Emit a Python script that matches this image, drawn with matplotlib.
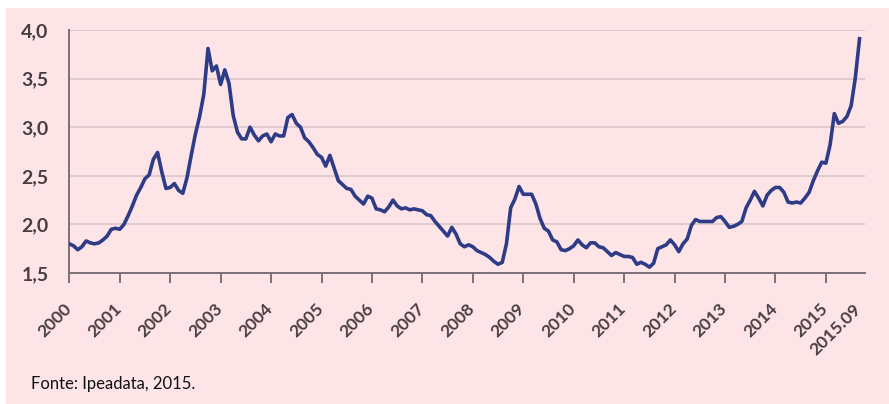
import numpy as np
import matplotlib.pyplot as plt
from matplotlib.patches import Rectangle
from matplotlib.transforms import ScaledTranslation

# taxa de câmbio R$/US$, média mensal, jan/2000 a set/2015
cambio_2000 = [1.80, 1.78, 1.74, 1.77, 1.83, 1.81, 1.80, 1.81, 1.84, 1.88, 1.95, 1.96]
cambio_2001 = [1.95, 2.00, 2.09, 2.19, 2.30, 2.38, 2.47, 2.51, 2.67, 2.74, 2.54, 2.37]
cambio_2002 = [2.38, 2.42, 2.35, 2.32, 2.48, 2.71, 2.93, 3.11, 3.34, 3.81, 3.58, 3.63]
cambio_2003 = [3.44, 3.59, 3.45, 3.12, 2.95, 2.88, 2.88, 3.00, 2.92, 2.86, 2.91, 2.93]
cambio_2004 = [2.85, 2.93, 2.91, 2.91, 3.10, 3.13, 3.04, 3.00, 2.89, 2.85, 2.79, 2.72]
cambio_2005 = [2.69, 2.60, 2.71, 2.58, 2.45, 2.41, 2.37, 2.36, 2.29, 2.25, 2.21, 2.29]
cambio_2006 = [2.27, 2.16, 2.15, 2.13, 2.18, 2.25, 2.19, 2.16, 2.17, 2.15, 2.16, 2.15]
cambio_2007 = [2.14, 2.10, 2.09, 2.03, 1.98, 1.93, 1.88, 1.97, 1.90, 1.80, 1.77, 1.79]
cambio_2008 = [1.77, 1.73, 1.71, 1.69, 1.66, 1.62, 1.59, 1.61, 1.80, 2.17, 2.26, 2.39]
cambio_2009 = [2.31, 2.31, 2.31, 2.21, 2.06, 1.96, 1.93, 1.84, 1.82, 1.74, 1.73, 1.75]
cambio_2010 = [1.78, 1.84, 1.79, 1.76, 1.81, 1.81, 1.77, 1.76, 1.72, 1.68, 1.71, 1.69]
cambio_2011 = [1.67, 1.67, 1.66, 1.59, 1.61, 1.59, 1.56, 1.60, 1.75, 1.77, 1.79, 1.84]
cambio_2012 = [1.79, 1.72, 1.80, 1.85, 1.99, 2.05, 2.03, 2.03, 2.03, 2.03, 2.07, 2.08]
cambio_2013 = [2.03, 1.97, 1.98, 2.00, 2.03, 2.17, 2.25, 2.34, 2.27, 2.19, 2.30, 2.35]
cambio_2014 = [2.38, 2.38, 2.33, 2.23, 2.22, 2.23, 2.22, 2.27, 2.33, 2.45, 2.55, 2.64]
cambio_2015 = [2.63, 2.82, 3.14, 3.04, 3.06, 3.11, 3.22, 3.51, 3.91]

anos = [str(a) for a in range(2000, 2016)]
ultimo_rotulo = "2015.09"
y_ticks = [1.5, 2.0, 2.5, 3.0, 3.5, 4.0]

serie = np.array(cambio_2000 + cambio_2001 + cambio_2002 + cambio_2003 + cambio_2004
                 + cambio_2005 + cambio_2006 + cambio_2007 + cambio_2008 + cambio_2009
                 + cambio_2010 + cambio_2011 + cambio_2012 + cambio_2013 + cambio_2014
                 + cambio_2015)
meses = np.arange(len(serie))

plt.rcParams['font.family'] = ['Lato', 'DejaVu Sans']

fig = plt.figure(figsize=(8.89, 4.04), dpi=100)
fig.patch.set_facecolor('white')
fundo = '#FDE4E7'
fig.patches.append(Rectangle((6 / 889, 0), 1, (404 - 8) / 404, transform=fig.transFigure,
                             facecolor=fundo, edgecolor='none', zorder=-10))

ax = fig.add_axes([69.3 / 889, 1 - 273 / 404, (865 - 69.3) / 889, (273 - 30) / 404])
ax.set_facecolor('none')

ax.plot(meses, serie, color='#2E3B86', linewidth=2.6, solid_joinstyle='round', zorder=3)

ax.set_ylim(1.5, 4.0)
ax.set_xlim(0, len(serie) + 0.3)
ax.set_yticks(y_ticks)
ax.set_yticklabels([f"{v:.1f}".replace('.', ',') for v in y_ticks], fontweight='bold')
ax.yaxis.grid(True, color='#DCC8CB', linewidth=1.3)
ax.set_axisbelow(True)

xt = list(range(0, 12 * len(anos), 12)) + [len(serie) - 1]
ax.set_xticks(xt)
ax.set_xticklabels(anos + [ultimo_rotulo], rotation=45, ha='right', va='top',
                   fontweight='bold')
ax.xaxis.get_major_ticks()[-1].tick1line.set_visible(False)

for s in ['top', 'right']:
    ax.spines[s].set_visible(False)
for s in ['left', 'bottom']:
    ax.spines[s].set_color('#7D6F77')
    ax.spines[s].set_linewidth(1.4)

ax.tick_params(axis='y', length=0, pad=15, labelsize=14, labelcolor='#4A3D44')
ax.tick_params(axis='x', length=7, width=1.4, color='#7D6F77', direction='out',
               pad=13, labelsize=12.5, labelcolor='#4A3D44')
desloc = ScaledTranslation(5 / 100, 0, fig.dpi_scale_trans)
for lab in ax.get_xticklabels():
    lab.set_transform(lab.get_transform() + desloc)

fig.text(31 / 889, 1 - 389 / 404, "Fonte: Ipeadata, 2015.", fontsize=12,
         color='#111111', ha='left', va='baseline')

fig.savefig('out.png', dpi=100, facecolor=fig.get_facecolor())
